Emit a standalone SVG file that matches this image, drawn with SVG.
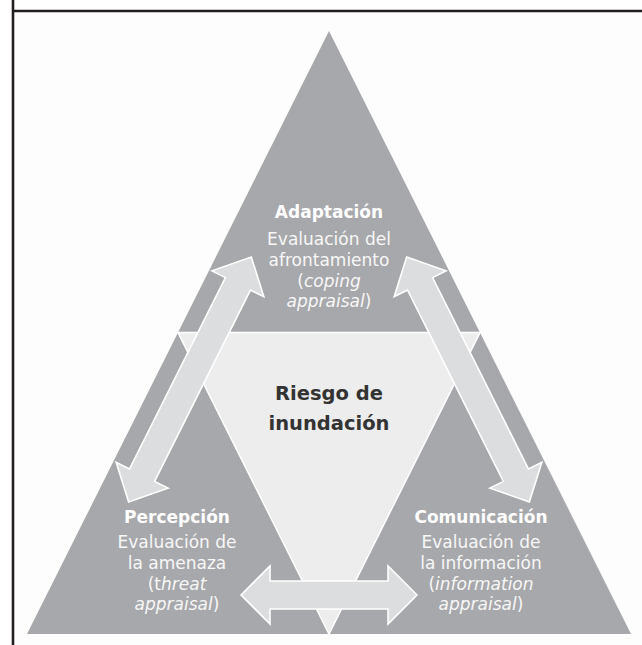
<svg xmlns="http://www.w3.org/2000/svg" width="642" height="645" viewBox="0 0 642 645">
  <defs>
    <style>
      .frame { stroke: #231f20; stroke-width: 2.6; fill: none; }
      .corner { fill: #a7a8ab; }
      .core { fill: #ededee; stroke: #ffffff; stroke-width: 1.6; }
      .arrow { fill: #dcdddf; stroke: #ffffff; stroke-width: 1.6; stroke-linejoin: miter; }
      text { font-family: "DejaVu Sans", Verdana, sans-serif; text-anchor: middle; }
      .title { font-weight: bold; font-size: 17px; fill: #ffffff; }
      .body { font-size: 17px; fill: #f7f7f7; }
      .it { font-style: italic; }
      .core-label { font-weight: bold; font-size: 19.5px; fill: #333333; }
    </style>
    <!-- double-headed block arrow, 274 long, centred on the origin -->
    <polygon id="dbl" points="-137,0 -107,-29 -107,-14 107,-14 107,-29 137,0 107,29 107,14 -107,14 -107,29"/>
    <polygon id="dblShort" points="-88,0 -59,-29 -59,-14 59,-14 59,-29 88,0 59,29 59,14 -59,14 -59,29"/>
  </defs>

  <rect width="642" height="645" fill="#ffffff"/>
  <rect x="13" y="11" width="629" height="634" fill="#fdfdfd"/>
  <g id="frame">
    <line class="frame" x1="12" y1="11" x2="642" y2="11"/>
    <line class="frame" x1="13" y1="0" x2="13" y2="645"/>
  </g>

  <g id="triangle">
    <polygon class="corner" points="329,31 631,634 27,634"/>
  </g>

  <g id="riesgo">
    <polygon class="core" points="178,332.5 480,332.5 329,634"/>
    <text class="core-label" x="329" y="400">Riesgo de</text>
    <text class="core-label" x="329" y="430">inundación</text>
  </g>

  <g id="connectors">
    <use href="#dbl" class="arrow" transform="translate(190 379.5) rotate(-63.4)"/>
    <use href="#dbl" class="arrow" transform="translate(468 379.5) rotate(63.4)"/>
    <use href="#dblShort" class="arrow" transform="translate(329 595)"/>
  </g>

  <g id="adaptacion">
    <text class="title" x="329" y="218">Adaptación</text>
    <text class="body" x="329" y="245">Evaluación del</text>
    <text class="body" x="329" y="266">afrontamiento</text>
    <text class="body" x="329" y="287">(<tspan class="it">coping</tspan></text>
    <text class="body" x="329" y="307"><tspan class="it">appraisal</tspan>)</text>
  </g>

  <g id="percepcion">
    <text class="title" x="177" y="523">Percepción</text>
    <text class="body" x="177" y="548">Evaluación de</text>
    <text class="body" x="177" y="569">la amenaza</text>
    <text class="body" x="177" y="590">(t<tspan class="it">hreat</tspan></text>
    <text class="body" x="177" y="610"><tspan class="it">appraisal</tspan>)</text>
  </g>

  <g id="comunicacion">
    <text class="title" x="481" y="523">Comunicación</text>
    <text class="body" x="481" y="548">Evaluación de</text>
    <text class="body" x="481" y="569">la información</text>
    <text class="body" x="481" y="590">(<tspan class="it">information</tspan></text>
    <text class="body" x="481" y="610"><tspan class="it">appraisal</tspan>)</text>
  </g>
</svg>
